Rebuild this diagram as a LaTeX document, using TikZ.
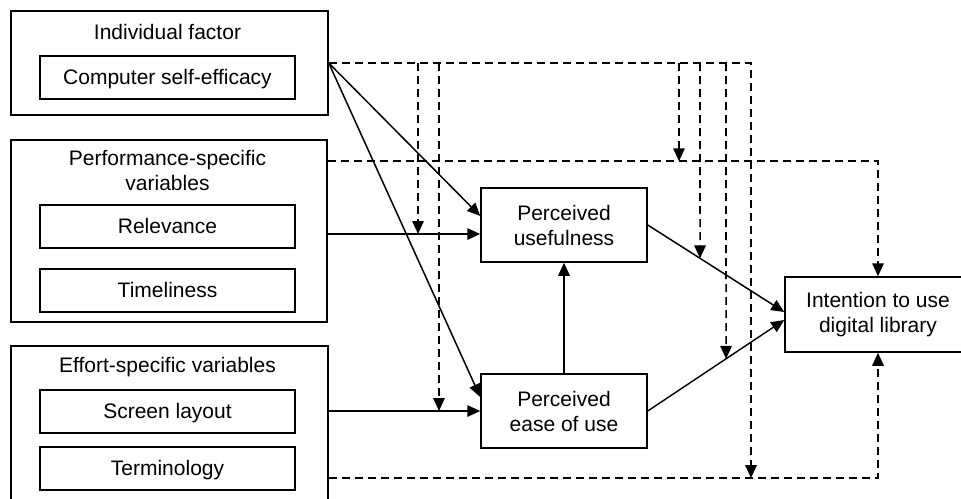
\documentclass[tikz,border=0pt]{standalone}
\usepackage{fontspec}
\setmainfont{Liberation Sans}
\usetikzlibrary{arrows.meta,calc}

\begin{document}
\begin{tikzpicture}[x=1pt,y=-1pt,
  every node/.style={font=\fontsize{21}{25}\selectfont, inner sep=0pt},
  group/.style={draw, line width=1.5pt},
  grouptitle/.style={align=center},
  item/.style={draw, line width=1.5pt, minimum width=255pt, minimum height=43pt,
    text height=15pt, text depth=1pt},
  construct/.style={draw, line width=1.5pt, align=center,
    minimum width=166pt, minimum height=74pt},
  tip/.style={-{Triangle[length=13pt,width=11.5pt]}},
  effect/.style={line width=1.5pt, tip},
  moderator/.style={line width=1.6pt, dash pattern=on 8pt off 5pt},
  modeffect/.style={moderator, tip},
]
\clip (0,0) rectangle (961,498);

% external variable groups
\node[group, minimum width=317pt, minimum height=104pt] (indiv) at (169.5,63) {};
\node[grouptitle] (indivT) at (167.5,32) {Individual factor};
\node[item] (cse) at (167.5,77.5) {Computer self-efficacy};

\node[group, minimum width=316pt, minimum height=182pt] (perf) at (169,231) {};
\node[grouptitle] (perfT) at (167.5,170.5) {Performance-specific\\variables};
\node[item] (rel) at (167.5,226.5) {Relevance};
\node[item] (time) at (167.5,290.5) {Timeliness};

\node[group, minimum width=317pt, minimum height=170pt] (effort) at (169.5,431) {};
\node[grouptitle] (effortT) at (167.5,367) {Effort-specific variables};
\node[item] (screen) at (167.5,411.5) {Screen layout};
\node[item] (term) at (167.5,468.5) {Terminology};

% TAM constructs
\node[construct] (pu) at (564,225) {Perceived\\usefulness};
\node[construct] (peou) at (564,411) {Perceived\\ease of use};
\node[construct, minimum width=186pt, minimum height=75pt] (intent) at (878,314.5) {Intention to use\\digital library};

% helper points
\coordinate (relS) at ($(perf.east)+(0,3)$);
\coordinate (puIn1) at ($(pu.west)+(0,-9)$);
\coordinate (peouIn1) at ($(peou.west)+(0,-14)$);
\coordinate (intIn1) at ($(intent.west)+(0,-2.5)$);
\coordinate (intIn2) at ($(intent.west)+(0,5.5)$);
\coordinate (puE) at (pu.east);
\coordinate (peouE) at (peou.east);
\coordinate (perfD) at ($(perf.north east)+(0,22)$);
\coordinate (effY) at (0,478);
\coordinate (effD) at (effort.east |- effY);
\coordinate (m1) at (418,0);
\coordinate (m2) at (439,0);
\coordinate (m3) at (679,0);
\coordinate (m4) at (700,0);
\coordinate (m5) at (726,0);
\coordinate (m6) at (751,0);
\coordinate (m4b) at (700,500);
\coordinate (m5b) at (726,500);

% solid causal paths
\draw[effect] (indiv.east) -- (puIn1);
\draw[effect] (indiv.east) -- (peouIn1);
\draw[effect] (relS) -- (pu.west |- relS);
\draw[effect] (effort.east |- peou.west) -- (peou.west);
\draw[effect] (peou.north) -- (pu.south);
\draw[effect] (puE) -- (intIn1);
\draw[effect] (peouE) -- (intIn2);

% dashed moderating paths
\draw[modeffect] (indiv.east) -- (indiv.east -| m6) -- (m6 |- effD);
\draw[modeffect] (indiv.east -| m1) -- (m1 |- relS);
\draw[modeffect] (indiv.east -| m2) -- (m2 |- peou.west);
\draw[modeffect] (indiv.east -| m3) -- (m3 |- perfD);
\draw[modeffect] (indiv.east -| m4) -- (intersection of puE--intIn1 and m4--m4b);
\draw[modeffect] (indiv.east -| m5) -- (intersection of peouE--intIn2 and m5--m5b);
\draw[modeffect] (perfD) -- (perfD -| intent.north) -- (intent.north);
\draw[modeffect] (effD) -- (effD -| intent.south) -- (intent.south);
\end{tikzpicture}
\end{document}
